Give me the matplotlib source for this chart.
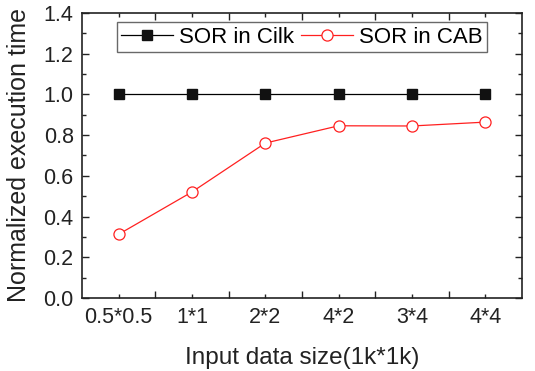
import matplotlib
matplotlib.use("Agg")
import matplotlib.pyplot as plt
from matplotlib.ticker import MultipleLocator, FixedLocator

plt.rcParams['font.family'] = ['Liberation Sans', 'DejaVu Sans']

categories = ["0.5*0.5", "1*1", "2*2", "4*2", "3*4", "4*4"]
cilk = [1.0, 1.0, 1.0, 1.0, 1.0, 1.0]
cab = [0.313, 0.521, 0.761, 0.846, 0.845, 0.864]

fig = plt.figure(figsize=(5.35, 3.71), dpi=100)
ax = fig.add_axes([82/535, 1-298/371, (522-82)/535, (298-13)/371])

x = list(range(len(categories)))
ax.plot(x, cilk, color='black', lw=0.9, marker='s', ms=7, mfc='#111111', mec='#111111',
        label='SOR in Cilk')
ax.plot(x, cab, color='#ff2020', lw=0.9, marker='o', ms=8, mfc='white', mec='#ff2020',
        mew=0.9, label='SOR in CAB')

ax.set_xlim(-0.5, 5.5)
ax.set_ylim(0, 1.4)
ax.xaxis.set_major_locator(FixedLocator([i + 0.5 for i in range(5)]))
ax.xaxis.set_minor_locator(FixedLocator(x))
ax.set_xticklabels([])
for xi, lab in zip(x, categories):
    ax.text(xi, -0.03, lab, ha='center', va='top', fontsize=15.5,
            transform=ax.get_xaxis_transform(), color='#222222')
ax.yaxis.set_minor_locator(MultipleLocator(0.1))
yt = [0, 0.2, 0.4, 0.6, 0.8, 1.0, 1.2, 1.4]
ax.set_yticks(yt)
ax.set_yticklabels([f"{v:.1f}" for v in yt])
ax.tick_params(axis='both', which='both', direction='in', top=True, right=True,
               width=1.0, color='#222222')
ax.tick_params(axis='both', which='major', length=5, labelsize=15.5, labelcolor='#222222')
ax.tick_params(axis='both', which='minor', length=3)
ax.tick_params(axis='y', which='major', pad=6)
for s in ax.spines.values():
    s.set_linewidth(1.2)
    s.set_color('#222222')

ax.set_xlabel('Input data size(1k*1k)', fontsize=17.5, labelpad=32, color='#222222')
ax.set_ylabel('Normalized execution time', fontsize=18, labelpad=9, color='#222222')

leg = ax.legend(loc='upper center', bbox_to_anchor=(0.5, 0.967), ncol=2, fontsize=16,
                frameon=True, fancybox=False, edgecolor='#444444', handlelength=2.35,
                columnspacing=0.3, handletextpad=0.27, borderpad=0.2, borderaxespad=0)
leg.get_frame().set_linewidth(1.0)

fig.savefig('out.png', dpi=100)
